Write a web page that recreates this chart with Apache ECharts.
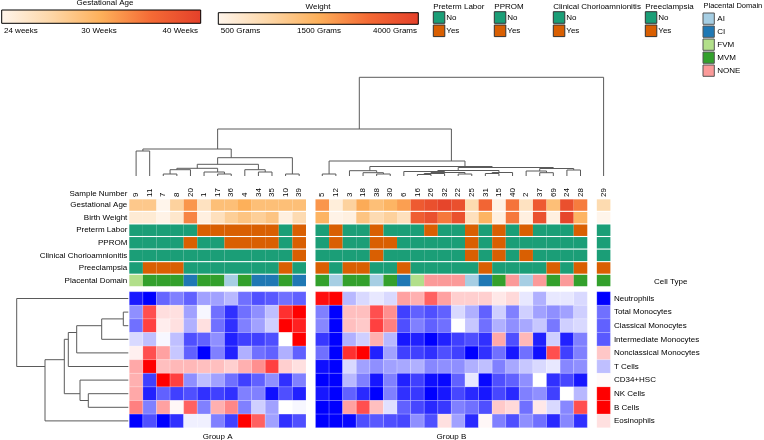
<!DOCTYPE html>
<html><head><meta charset="utf-8">
<script src="https://cdn.jsdelivr.net/npm/echarts@6/dist/echarts.min.js"></script>
<style>html,body{margin:0;padding:0;background:#fff}#c{width:764px;height:440px}</style>
</head><body><div id="c"></div>
<script>
// ---------------- data ----------------
const sampleOrder = ['9','11','7','8','20','1','17','36','4','34','35','10','39',
  '5','12','3','18','38','30','6','16','26','32','22','25','31','15','40','2','37','69','24','28','29'];
const groupSizes = [13, 20, 1];
const groupNames = ['Group A', 'Group B', ''];
const annotationNames = ['Sample Number','Gestational Age','Birth Weight','Preterm Labor','PPROM',
  'Clinical Chorioamnionitis','Preeclampsia','Placental Domain'];
const gestationalAge = [29.5,29.5,24,28.5,33.5,26.5,30.5,30.5,32,30.5,30.5,30.5,30.5,
  33.5,25,28.5,32.3,30.5,31.5,33,37.5,38.5,39.5,38.5,27.5,36.5,24.5,35.5,26.5,37.5,30.5,38.5,35,
  27.5];
const birthWeight = [800,800,550,900,2800,650,1100,1550,1800,1550,1800,650,1250,
  2150,550,650,1800,1250,1500,1100,3400,3650,2950,3650,1100,2150,650,2950,650,3650,650,3900,2150,
  500];
const pretermLabor = [0,0,0,0,0,1,1,1,1,1,1,0,1, 0,1,0,0,1,0,0,0,1,0,0,1,0,1,0,1,0,0,0,1, 0];
const pprom        = [0,0,0,0,1,0,0,1,1,1,1,0,1, 0,1,0,0,1,1,0,0,0,0,0,1,0,1,0,0,0,0,0,0, 0];
const chorio       = [0,0,0,0,0,0,0,0,0,0,0,0,1, 0,0,0,0,1,0,0,0,0,0,0,1,0,1,0,1,0,0,0,0, 0];
const preeclampsia = [0,1,1,1,0,0,0,0,0,0,0,1,0, 1,0,1,1,0,0,1,0,0,0,0,0,1,0,0,0,0,1,0,1, 1];
const placentalDomain = ['FVM','MVM','MVM','MVM','CI','MVM','MVM','AI','MVM','CI','CI','MVM','CI',
  'MVM','AI','MVM','MVM','AI','MVM','CI','FVM','NONE','NONE','NONE','AI','CI','MVM','NONE','AI','NONE','MVM','NONE','MVM',
  'MVM'];
const domainLevels = ['AI','CI','FVM','MVM','NONE'];
const binaryLevels = ['No','Yes'];
const gaTickLabels = ['24 weeks','30 Weeks','40 Weeks'];
const bwTickLabels = ['500 Grams','1500 Grams','4000 Grams'];
const cellTypes = ['Neutrophils','Total Monocytes','Classical Monocytes','Intermediate Monocytes',
  'Nonclassical Monocytes','T Cells','CD34+HSC','NK Cells','B Cells','Eosinophils'];
const cellValues = [
  [-9,-10,-6,-5,-6.2,-3.7,-3.7,-2.8,-5.6,-6.9,-6.5,-5.6,-6.2, 9.4,10,-2.8,-1.5,-0.9,-1.5,3.7,3.1,6.2,3.7,1.9,1.9,1.9,0.9,1.5,-0.9,-3.1,-0.9,-0.9,-1.5, -10],
  [-4.4,6.9,1.3,1.2,-3.7,-0.3,-5.6,-8.1,-5.6,-4.4,-2.5,8.1,10, -5,-10,2.5,2.5,6.9,4.4,-7.5,-6.2,-6.9,-6.2,-1.5,-3.1,-6.2,-1.9,-5,-1.9,-3.7,-4.4,-3.7,-1.9, -5.6],
  [-5.6,7.5,0.7,1.2,-3.1,1.2,-5.6,-8.1,-5,-3.7,-1.9,10,8.7, -4.7,-10,2.5,2.1,7.5,5,-6.9,-5,-6.2,-5.6,0,-2.2,-5.6,-3.1,-4.4,-3.4,-2.2,-5.3,-1.9,-1.5, -6.2],
  [-1.5,-2.5,-0.3,-2.5,-6.9,-6.2,-4.4,-8.7,-7.5,-7.5,-6.9,0,10, -7.8,-10,-3.1,-1.9,3.1,-2.8,-9.1,-8.7,-10,-8.7,-7.5,-6.9,-8.1,3.4,-6.9,2.8,-8.7,-1.9,-8.7,-5, -6.5],
  [0.6,6.9,3.7,-2.2,-6.2,-10,-5,-8.7,-3.1,-5.6,-6.2,-3.1,-6.2, -5.6,-10,8.1,10,-8.7,-3.7,-7.5,-7.5,-8.1,-6.9,-7.5,-10,-8.1,-5.6,-9.1,-5.6,-9.4,6.9,-7.5,-5, 2.2],
  [3.4,10,2.5,2.8,2.8,2.5,2.5,1.9,3.1,4.4,7.5,1.9,1.2, -9.4,-10,-1.5,-3.7,-4.4,-3.7,-3.4,-3.1,-4.7,-4.4,-4.4,-3.1,-2.5,-5,-3.4,-2.2,-1.5,-0.9,-4.7,-4.4, -2.5],
  [3.1,-7.5,10,7.5,-4.4,-2.5,-3.7,-5.6,-7.5,-6.2,-4.4,-8.1,-5, -10,-10,-2.8,-5,-9.1,-5,-8.7,-7.5,-9.4,-9.7,-6.2,-0.9,-9.7,-6.9,-6.2,-4.4,0,-8.1,-7.2,-9.1, 0.2],
  [3.4,-8.7,-6.2,-7.5,-6.9,-8.1,-7.5,-8.1,-5,-5,-9.4,-6.9,-8.7, -9.1,-10,-6.2,-8.4,-10,-5,-8.1,-7.8,-10,-9.1,-7.2,-8.4,-9.1,-7.2,-8.4,-5,-4.4,-7.5,0,-2.8, 10],
  [5,-5,3.7,0.3,6.2,-5,3.1,4.7,-5,-1.9,-3.7,0,-0.3, -10,-10,3.7,6.9,2.5,-1.2,-6.2,-7.2,-8.4,-7.8,-5,-5.6,-6.9,2.1,1.5,-5.6,0.9,-1.5,-4.7,6.9, 10],
  [-10,-6.9,-10,-8.1,-0.6,-0.6,-5,-7.5,10,6.2,-3.7,-8.1,-6.9, -10,-10,-9.7,-6.9,-6.5,-6.9,-7.2,-4.4,-6.9,1.2,-3.7,-8.4,0.3,-5,-6.9,-4.4,-5.6,-8.4,-4.7,-8.1, 1.2]
];
// dendrogram merges: [childA, childB, height]; strings = leaves, numbers = earlier merges
const colMerges = [
  ['9','11',25],[ '7','8',2],[1,'20',6.3],['17','36',2],['1',3,4],[2,4,7.7],['34','35',4],['4',6,6.3],
  [5,7,11.7],['10','39',2],[8,9,18.3],[0,10,27],
  ['5','12',2],['38','30',2],['18',13,3.3],['3',14,5.3],['16','26',1.5],[16,'32',2.5],['22','25',2],
  [17,18,3.5],['6',19,4.5],['31','15',2.5],[21,'40',3.5],[20,22,5.5],['37','69',3.3],['2',24,5],
  ['24','28',6],[25,26,7.5],[23,27,8.5],[15,28,9.5],[12,29,15],[11,30,47],[31,'29',98.7]
];
const rowMerges = [
  ['Total Monocytes','Classical Monocytes',5],[0,'Intermediate Monocytes',26.6],
  [1,'Nonclassical Monocytes',51.6],[2,'T Cells',60],['NK Cells','B Cells',40],
  ['CD34+HSC',4,48.3],[3,5,64],[6,'Eosinophils',83.3],['Neutrophils',7,111.6]
];

// ---------------- styles ----------------
const FONT = '"Liberation Sans", Arial, Helvetica, sans-serif';
const warm = ['#fff5eb','#fdd7a8','#fdb05a','#f46a35','#e4402a'];
const binaryColors = ['#1b9e77','#d95f02'];
const domainColors = ['#a6cee3','#1f78b4','#b2df8a','#33a02c','#fb9a99'];
const GAP = 0.7;
const GL = 129.3, GW = 481.1;

function slotOf(i){ let g = 0, acc = 0; for (const s of groupSizes){ acc += s; if (i >= acc) g++; } return i + g*GAP; }
const XMAX = sampleOrder.length + GAP*(groupSizes.length-1);

function layoutTree(merges, names, leafPos){
  const nodes = [];
  const child = ref => {
    if (typeof ref === 'string'){ const p = leafPos(names.indexOf(ref)); return {pos:p, h:0, leaves:[p]}; }
    return nodes[ref];
  };
  return merges.map(([a,b,h]) => {
    const A = child(a), B = child(b);
    const leaves = A.leaves.concat(B.leaves);
    nodes.push({pos: leaves.reduce((s,v)=>s+v,0)/leaves.length, h, leaves});
    return [A.pos, A.h, B.pos, B.h, h];
  });
}

// ---------------- series data ----------------
const heatData = [];
cellValues.forEach((row, r) => row.forEach((v, c) => heatData.push([slotOf(c), r, v])));
const gaData = gestationalAge.map((v,c) => [slotOf(c), 1, v]);
const bwData = birthWeight.map((v,c) => [slotOf(c), 2, v]);
const catData = [];
[pretermLabor, pprom, chorio, preeclampsia].forEach((arr, k) =>
  arr.forEach((v,c) => catData.push([slotOf(c), 3+k, v, 0])));
placentalDomain.forEach((d,c) => catData.push([slotOf(c), 7, domainLevels.indexOf(d), 1]));
const labelData = sampleOrder.map((s,c) => [slotOf(c)+0.5, 0]);
const groupData = []; { let acc = 0; groupSizes.forEach((s) => { groupData.push([slotOf(acc) + s/2, cellTypes.length-1]); acc += s; }); }
const colDendro = layoutTree(colMerges, sampleOrder, i => slotOf(i)+0.5);
const rowDendro = layoutTree(rowMerges, cellTypes, i => i+0.5);

function cellRect(api, gap, fill, stroke){
  const p = api.coord([api.value(0), api.value(1)]);
  const p2 = api.coord([api.value(0)+1, api.value(1)]);
  const s = api.size([1,1]);
  return {type:'rect', shape:{x:p[0], y:p[1]-s[1]/2+gap/2, width:p2[0]-p[0], height:s[1]-gap},
    style:{fill, stroke: stroke || null, lineWidth: stroke ? 0.5 : 0}};
}

const chart = echarts.init(document.getElementById('c'), null, {renderer:'canvas'});
const option = {
  animation:false,
  grid:[
    {left:GL, width:GW, top:76, height:100},
    {left:GL, width:GW, top:186.2, height:100.6},
    {left:GL, width:GW, top:291.7, height:136},
    {left:16.7, width:111.6, top:291.7, height:136}
  ],
  xAxis:[
    {type:'value', gridIndex:0, min:0, max:XMAX, show:false},
    {type:'value', gridIndex:1, min:0, max:XMAX, show:false},
    {type:'value', gridIndex:2, min:0, max:XMAX, show:false},
    {type:'value', gridIndex:3, min:0, max:111.6, inverse:true, show:false}
  ],
  yAxis:[
    {type:'value', gridIndex:0, min:0, max:100, show:false},
    {type:'category', gridIndex:1, data:annotationNames, inverse:true,
      axisLine:{show:false}, axisTick:{show:false}, splitLine:{show:false},
      axisLabel:{fontSize:8, fontFamily:FONT, color:'#000', margin:2,
        formatter:(v, i) => i === 0 ? '{s|' + v + '}' : v,
        rich:{s:{fontSize:8, fontFamily:FONT, color:'#000', padding:[3,0,0,0]}}}},
    {type:'category', gridIndex:2, data:cellTypes, inverse:true, position:'right',
      axisLine:{show:false}, axisTick:{show:false}, splitLine:{show:false},
      axisLabel:{fontSize:8, fontFamily:FONT, color:'#000', margin:3.5}},
    {type:'value', gridIndex:3, min:0, max:cellTypes.length, inverse:true, show:false}
  ],
  visualMap:[
    {type:'continuous', show:false, seriesIndex:0, dimension:2, min:-10, max:10,
      inRange:{color:['#0000ff','#ffffff','#ff0000']}},
    {type:'continuous', show:false, seriesIndex:1, dimension:2, min:24, max:40, inRange:{color:warm}},
    {type:'continuous', show:false, seriesIndex:2, dimension:2, min:500, max:4000, inRange:{color:warm}}
  ],
  series:[
    {type:'custom', xAxisIndex:2, yAxisIndex:2, data:heatData, silent:true,
      renderItem:(p, api) => cellRect(api, 0, api.visual('color'), 'rgba(255,255,255,0.35)')},
    {type:'custom', xAxisIndex:1, yAxisIndex:1, data:gaData, silent:true,
      renderItem:(p, api) => cellRect(api, 1.1, api.visual('color'))},
    {type:'custom', xAxisIndex:1, yAxisIndex:1, data:bwData, silent:true,
      renderItem:(p, api) => cellRect(api, 1.1, api.visual('color'))},
    {type:'custom', xAxisIndex:1, yAxisIndex:1, data:catData, silent:true,
      renderItem:(p, api) => cellRect(api, 1.1, (api.value(3) ? domainColors : binaryColors)[api.value(2)])},
    {type:'custom', xAxisIndex:1, yAxisIndex:1, data:labelData, silent:true,
      renderItem:(p, api) => {
        const pt = api.coord([api.value(0), api.value(1)]);
        const s = api.size([1,1]);
        return {type:'text', x:pt[0], y:pt[1]+s[1]/2-1.8, rotation:Math.PI/2,
          style:{text:sampleOrder[p.dataIndex], fontSize:8, fontFamily:FONT, fill:'#000', align:'left', verticalAlign:'middle'}};
      }},
    {type:'custom', xAxisIndex:2, yAxisIndex:2, data:groupData, silent:true,
      renderItem:(p, api) => {
        const pt = api.coord([api.value(0), api.value(1)]);
        const s = api.size([1,1]);
        return {type:'text', x:pt[0], y:pt[1]+s[1]/2+9.5,
          style:{text:groupNames[p.dataIndex], fontSize:8, fontFamily:FONT, fill:'#000', align:'center', verticalAlign:'middle'}};
      }},
    {type:'custom', xAxisIndex:0, yAxisIndex:0, data:colDendro, silent:true,
      renderItem:(p, api) => ({type:'polyline',
        shape:{points:[[api.value(0),api.value(1)],[api.value(0),api.value(4)],[api.value(2),api.value(4)],[api.value(2),api.value(3)]].map(q=>api.coord(q))},
        style:{stroke:'#5a5a5a', lineWidth:1, fill:null}})},
    {type:'custom', xAxisIndex:3, yAxisIndex:3, data:rowDendro, silent:true,
      renderItem:(p, api) => ({type:'polyline',
        shape:{points:[[api.value(1),api.value(0)],[api.value(4),api.value(0)],[api.value(4),api.value(2)],[api.value(3),api.value(2)]].map(q=>api.coord(q))},
        style:{stroke:'#5a5a5a', lineWidth:1, fill:null}})}
  ],
  graphic:[]
};

// ---------------- legends ----------------
function txt(x, y, text, align, size){
  return {type:'text', x, y, silent:true, style:{text, fontSize:size||8, fontFamily:FONT, fill:'#000', align:align||'left', verticalAlign:'middle'}};
}
function gradient(){ return new echarts.graphic.LinearGradient(0,0,1,0, warm.map((c,i)=>({offset:i/(warm.length-1), color:c}))); }
const g = option.graphic;
g.push(txt(105, 2.5, 'Gestational Age', 'center'));
g.push({type:'rect', shape:{x:1.7, y:10, width:199, height:13.3}, style:{fill:gradient(), stroke:'#000', lineWidth:1}});
g.push(txt(4, 30.5, gaTickLabels[0], 'left'), txt(99, 30.5, gaTickLabels[1], 'center'), txt(198, 30.5, gaTickLabels[2], 'right'));
g.push(txt(318, 6.3, 'Weight', 'center'));
g.push({type:'rect', shape:{x:218.3, y:12.7, width:200, height:11.6}, style:{fill:gradient(), stroke:'#000', lineWidth:1}});
g.push(txt(220.7, 30.3, bwTickLabels[0], 'left'), txt(319, 30.3, bwTickLabels[1], 'center'), txt(417, 30.3, bwTickLabels[2], 'right'));
[['Preterm Labor',433.3],['PPROM',494.3],['Clinical Chorioamnionitis',553.3],['Preeclampsia',645.3]].forEach(([t,x]) => {
  g.push(txt(x, 6.3, t, 'left'));
  binaryLevels.forEach((lv, k) => {
    g.push({type:'rect', shape:{x:x, y:11.7+13.3*k, width:11.5, height:11.6}, style:{fill:binaryColors[k], stroke:'#333', lineWidth:1}});
    g.push(txt(x+13, 17.5+13.3*k, lv, 'left'));
  });
});
g.push(txt(703.5, 6.3, 'Placental Domain', 'left', 7.5));
domainLevels.forEach((lv, k) => {
  g.push({type:'rect', shape:{x:703, y:13+13*k, width:11.3, height:11.3}, style:{fill:domainColors[k], stroke:'#555', lineWidth:1}});
  g.push(txt(717.3, 18.7+13*k, lv, 'left'));
});
g.push(txt(654, 282, 'Cell Type', 'left'));

chart.setOption(option);
</script></body></html>
